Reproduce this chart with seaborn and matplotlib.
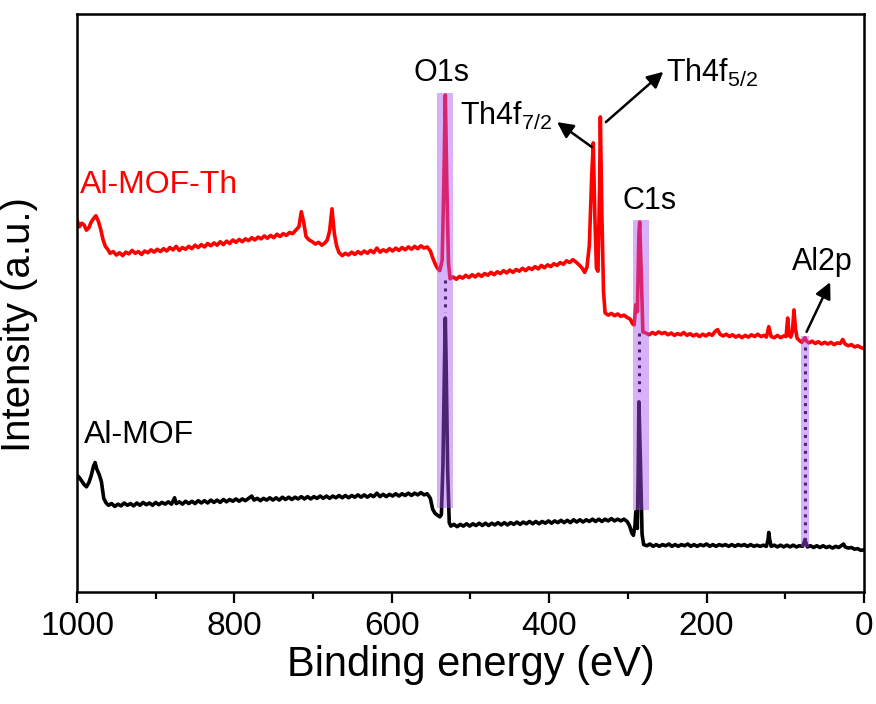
import matplotlib
matplotlib.use('Agg')
import matplotlib.pyplot as plt
import pandas as pd
import seaborn as sns

# XPS survey spectra (arbitrary intensity units)
energy_th = [1000, 997, 994, 991, 988, 985, 982, 979, 976, 973,
             970, 967, 964, 961, 958, 954, 950, 946, 942, 938,
             934, 930, 926, 922, 918, 914, 910, 906, 902, 898,
             894, 890, 886, 882, 878, 874, 870, 866, 862, 858,
             854, 850, 846, 842, 838, 834, 830, 826, 822, 818,
             814, 810, 806, 802, 798, 794, 790, 786, 782, 778,
             774, 770, 766, 762, 758, 754, 750, 746, 742, 738,
             734, 730, 726, 722, 718, 715, 712, 709, 705, 701,
             697, 693, 689, 685, 682, 679, 676, 673, 670, 667,
             663, 659, 655, 651, 647, 643, 639, 635, 631, 627,
             623, 619, 615, 611, 607, 603, 599, 595, 591, 587,
             583, 579, 575, 571, 567, 563, 559, 555, 551, 548,
             545, 542, 539, 536, 534, 532, 530, 528, 526, 522,
             518, 514, 510, 506, 502, 498, 494, 490, 486, 482,
             478, 474, 470, 466, 462, 458, 454, 450, 446, 442,
             438, 434, 430, 426, 422, 418, 414, 410, 406, 402,
             398, 394, 390, 386, 382, 378, 374, 370, 366, 362,
             358, 355, 352, 349, 346, 344, 342, 340, 338, 336,
             335, 333, 331, 329, 325, 321, 317, 313, 309, 305,
             301, 297, 294, 292, 290, 288, 286, 285, 283, 281,
             277, 273, 269, 265, 261, 257, 253, 249, 245, 241,
             237, 233, 229, 225, 221, 217, 213, 209, 205, 201,
             197, 193, 189, 186, 183, 179, 175, 171, 167, 163,
             159, 155, 151, 147, 143, 139, 135, 131, 127, 124,
             121, 118, 114, 110, 106, 102, 99, 97, 95, 93,
             91, 89, 87, 85, 82, 79, 77, 75, 73, 70,
             66, 62, 58, 54, 50, 46, 42, 38, 34, 30,
             27, 24, 20, 16, 12, 8, 4, 0]
intensity_th = [64.4, 63.2, 63.8, 63.5, 62.6, 63.0, 64.0, 64.6, 65.1, 64.2,
                62.8, 61.0, 59.8, 59.3, 58.6, 58.9, 58.3, 58.7, 58.2, 58.8,
                58.5, 59.1, 58.6, 58.9, 58.4, 59.0, 58.7, 59.2, 58.8, 59.3,
                58.9, 59.4, 59.0, 59.6, 59.2, 59.8, 59.1, 59.6, 59.3, 59.8,
                59.4, 60.0, 59.6, 60.1, 59.7, 60.3, 59.9, 60.4, 60.0, 60.6,
                60.1, 60.7, 60.3, 60.9, 60.5, 61.0, 60.6, 61.1, 60.8, 61.3,
                60.9, 61.4, 61.1, 61.6, 61.2, 61.7, 61.3, 61.9, 61.5, 62.0,
                61.7, 62.2, 62.0, 62.6, 63.2, 65.8, 64.0, 61.5, 60.9, 60.6,
                60.2, 60.5, 60.0, 60.4, 60.9, 62.5, 66.3, 62.0, 59.8, 58.7,
                58.2, 58.6, 58.3, 58.8, 58.4, 58.9, 58.5, 59.0, 58.6, 59.1,
                58.7, 59.5, 58.8, 59.2, 58.9, 59.4, 59.0, 59.5, 59.1, 59.6,
                59.2, 59.7, 59.3, 59.8, 59.4, 59.9, 59.5, 59.7, 59.0, 57.8,
                56.8, 56.0, 55.6, 57.4, 70.0, 86.0, 70.0, 57.0, 54.2, 54.5,
                54.1, 54.6, 54.3, 54.8, 54.4, 54.9, 54.5, 55.0, 54.6, 55.1,
                54.8, 55.3, 54.9, 55.4, 55.1, 55.6, 55.2, 55.7, 55.3, 55.8,
                55.5, 56.0, 55.6, 56.1, 55.8, 56.3, 55.9, 56.5, 56.1, 56.6,
                56.3, 56.8, 56.5, 57.0, 56.7, 57.3, 57.0, 57.5, 57.1, 56.6,
                56.0, 55.3, 56.2, 60.0, 72.0, 77.7, 65.0, 56.0, 55.5, 70.0,
                82.2, 65.0, 52.0, 48.3, 47.9, 48.2, 47.8, 48.1, 47.7, 47.9,
                47.5, 47.2, 46.4, 46.2, 49.7, 48.5, 62.0, 64.0, 55.0, 45.0,
                44.8, 44.5, 44.9, 44.6, 45.0, 44.7, 44.9, 44.5, 44.8, 44.4,
                44.7, 44.5, 44.9, 44.4, 44.7, 44.3, 44.6, 44.2, 44.6, 44.3,
                44.7, 44.4, 45.1, 45.4, 44.6, 44.3, 44.6, 44.2, 44.5, 44.1,
                44.4, 44.0, 44.4, 44.1, 44.5, 44.2, 44.6, 44.2, 44.4, 44.1,
                45.9, 44.2, 44.0, 44.4, 44.0, 44.3, 44.2, 47.4, 44.4, 44.1,
                45.0, 48.8, 45.5, 43.9, 43.5, 43.2, 43.6, 44.0, 43.4, 43.1,
                43.4, 43.0, 43.3, 42.9, 43.2, 42.9, 43.2, 42.8, 43.1, 43.0,
                43.7, 42.9, 42.6, 42.8, 42.4, 42.6, 42.3, 42.1]

energy_mof = [1000, 997, 994, 991, 988, 985, 982, 979, 977, 975,
              972, 969, 966, 963, 960, 956, 952, 948, 944, 940,
              936, 932, 928, 924, 920, 916, 912, 908, 904, 900,
              896, 892, 888, 884, 880, 876, 874, 870, 866, 862,
              858, 854, 850, 846, 842, 838, 834, 830, 826, 822,
              818, 814, 810, 806, 802, 798, 794, 790, 786, 782,
              778, 775, 771, 767, 763, 759, 755, 751, 747, 743,
              739, 735, 731, 727, 723, 719, 715, 711, 707, 703,
              699, 695, 691, 687, 683, 679, 675, 671, 667, 663,
              659, 655, 651, 647, 643, 639, 635, 631, 627, 623,
              619, 615, 611, 607, 603, 599, 595, 591, 587, 583,
              579, 575, 571, 567, 563, 559, 555, 551, 548, 545,
              542, 539, 537, 535, 533, 532, 531, 529, 527, 525,
              521, 517, 513, 509, 505, 501, 497, 493, 489, 485,
              481, 477, 473, 469, 465, 461, 457, 453, 449, 445,
              441, 437, 433, 429, 425, 421, 417, 413, 409, 405,
              401, 397, 393, 389, 385, 381, 377, 373, 369, 365,
              361, 357, 353, 349, 345, 341, 337, 333, 329, 325,
              321, 317, 313, 309, 305, 301, 298, 295, 293, 291,
              290, 288, 287, 286, 284, 282, 280, 276, 272, 268,
              264, 260, 256, 252, 248, 244, 240, 236, 232, 228,
              224, 220, 216, 212, 208, 204, 200, 196, 192, 188,
              184, 180, 176, 172, 168, 164, 160, 156, 152, 148,
              144, 140, 136, 132, 128, 124, 122, 121, 120, 118,
              114, 110, 106, 102, 98, 94, 90, 86, 82, 78,
              76, 75, 74, 72, 68, 64, 60, 56, 52, 48,
              44, 40, 36, 32, 28, 26, 24, 20, 16, 12,
              8, 4, 0]
intensity_mof = [20.2, 19.8, 19.2, 18.6, 18.2, 18.9, 20.1, 21.8, 22.4, 21.3,
                 20.4, 19.1, 16.2, 15.4, 15.0, 15.3, 14.8, 15.2, 14.9, 15.4,
                 15.0, 15.3, 14.9, 15.4, 15.0, 15.5, 15.1, 15.4, 15.0, 15.5,
                 15.1, 15.5, 15.2, 15.6, 15.2, 16.3, 15.3, 15.6, 15.2, 15.7,
                 15.3, 15.7, 15.3, 15.8, 15.4, 15.8, 15.4, 15.9, 15.5, 15.9,
                 15.5, 16.0, 15.6, 16.0, 15.7, 16.1, 15.7, 16.1, 15.8, 16.2,
                 16.6, 15.9, 16.2, 15.8, 16.2, 15.9, 16.3, 15.9, 16.3, 15.9,
                 16.4, 16.0, 16.4, 16.0, 16.4, 16.1, 16.5, 16.1, 16.5, 16.1,
                 16.5, 16.2, 16.6, 16.2, 16.6, 16.2, 16.6, 16.3, 16.7, 16.3,
                 16.7, 16.3, 16.7, 16.4, 16.8, 16.4, 16.8, 16.4, 16.8, 16.5,
                 17.1, 16.5, 16.9, 16.5, 16.9, 16.6, 17.0, 16.6, 17.0, 16.7,
                 17.1, 16.7, 17.1, 16.8, 17.2, 16.8, 17.0, 16.2, 14.3, 13.6,
                 13.3, 13.0, 13.4, 22.0, 40.0, 47.4, 40.0, 21.0, 12.0, 11.4,
                 11.7, 11.3, 11.7, 11.4, 11.8, 11.4, 11.8, 11.5, 11.9, 11.5,
                 11.9, 11.5, 11.9, 11.6, 12.0, 11.6, 12.0, 11.6, 12.0, 11.7,
                 12.1, 11.7, 12.1, 11.8, 12.2, 11.8, 12.2, 11.8, 12.2, 11.9,
                 12.3, 11.9, 12.3, 12.0, 12.4, 12.0, 12.4, 12.0, 12.5, 12.1,
                 12.5, 12.1, 12.5, 12.2, 12.6, 12.2, 12.6, 12.2, 12.6, 12.3,
                 12.7, 12.3, 12.6, 12.3, 12.6, 12.2, 11.5, 10.2, 9.8, 11.5,
                 13.9, 11.0, 20.0, 32.9, 22.0, 10.0, 8.2, 8.0, 8.3, 7.9,
                 8.2, 7.9, 8.2, 8.0, 8.3, 7.9, 8.2, 7.9, 8.2, 8.0,
                 8.3, 7.9, 8.2, 7.9, 8.2, 8.0, 8.3, 7.9, 8.2, 7.9,
                 8.2, 8.0, 8.2, 7.9, 8.2, 7.9, 8.2, 8.0, 8.2, 7.9,
                 8.2, 7.9, 8.1, 7.9, 8.1, 7.9, 9.0, 10.3, 9.2, 7.9,
                 8.1, 7.8, 8.1, 7.8, 8.1, 7.8, 8.1, 7.8, 8.0, 7.9,
                 8.6, 9.1, 8.6, 7.8, 8.0, 7.7, 8.0, 7.7, 8.0, 7.7,
                 7.9, 7.6, 7.9, 7.7, 8.1, 8.3, 7.8, 7.6, 7.7, 7.4,
                 7.5, 7.2, 7.3]

samples = ['Al-MOF-Th', 'Al-MOF']
sample_colors = ['#ff0000', '#000000']

# highlighted peaks: centre, band energy range (eV), band height, dotted guide (top, bottom)
peak_centers = [532, 285.5, 75]
band_lo = [522, 273, 70]
band_hi = [543, 293, 80]
band_bottom = [14.5, 14.2, 7.8]
band_top = [86.3, 64.4, 44.3]
guide_top = [54.0, 44.8, 42.4]
guide_bottom = [48.5, 34.4, 9.0]

df = pd.concat([
    pd.DataFrame({'Binding energy (eV)': energy_th, 'Intensity': intensity_th, 'Sample': samples[0]}),
    pd.DataFrame({'Binding energy (eV)': energy_mof, 'Intensity': intensity_mof, 'Sample': samples[1]}),
])

sns.set_style('white')
plt.rcParams['font.family'] = ['Liberation Sans', 'DejaVu Sans']
plt.rcParams['mathtext.fontset'] = 'custom'
plt.rcParams['mathtext.rm'] = 'Liberation Sans'
plt.rcParams['mathtext.it'] = 'Liberation Sans:italic'
plt.rcParams['text.color'] = 'black'
plt.rcParams['axes.labelcolor'] = 'black'
plt.rcParams['xtick.color'] = 'black'

fig = plt.figure(figsize=(8.76, 7.04), dpi=100)
ax = fig.add_axes([0.0879, 0.1591, 0.8984, 0.821])

sns.lineplot(data=df, x='Binding energy (eV)', y='Intensity', hue='Sample',
             palette=dict(zip(samples, sample_colors)), estimator=None, sort=False,
             lw=2.6, legend=False, ax=ax, zorder=2)

# dotted guides and shaded bands
for c, lo, hi, b0, b1, g0, g1 in zip(peak_centers, band_lo, band_hi, band_bottom,
                                       band_top, guide_top, guide_bottom):
    ax.plot([c, c], [g0, g1], color='#000000', lw=2.2, ls=(0, (1, 1.6)), zorder=1)
    ax.fill_between([hi, lo], b0, b1, color='#a855f7', alpha=0.45, lw=0, zorder=3)

fs = 22
ax.text(537, 87.2, 'O1s', ha='center', va='bottom', fontsize=fs)
ax.text(272, 65.0, 'C1s', ha='center', va='bottom', fontsize=fs)
ax.text(53, 54.5, 'Al2p', ha='center', va='bottom', fontsize=fs)
arrow = dict(arrowstyle='-|>', color='k', lw=1.8, mutation_scale=24, shrinkA=0, shrinkB=0)
ax.annotate('', xy=(43, 53.6), xytext=(73, 45.0), arrowprops=arrow)
ax.text(455, 80.8, r'Th4f$_{\mathregular{7/2}}$', ha='center', va='baseline', fontsize=fs)
ax.annotate('', xy=(390, 81.3), xytext=(346, 77.0), arrowprops=arrow)
ax.text(193, 88.2, r'Th4f$_{\mathregular{5/2}}$', ha='center', va='baseline', fontsize=fs)
ax.annotate('', xy=(255, 90.0), xytext=(328, 81.3), arrowprops=arrow)

ax.text(996, 69.0, 'Al-MOF-Th', color='#ff0000', ha='left', va='baseline', fontsize=23)
ax.text(991, 25.8, 'Al-MOF', color='k', ha='left', va='baseline', fontsize=23)

ax.set_xlim(1000, 0)
ax.set_ylim(0, 100)
ax.set_xticks([1000, 800, 600, 400, 200, 0])
ax.set_xticks([900, 700, 500, 300, 100], minor=True)
ax.set_yticks([])
ax.tick_params(axis='x', which='major', direction='out', length=8, width=1.6,
               labelsize=24, pad=6, bottom=True)
ax.tick_params(axis='x', which='minor', direction='out', length=5, width=1.6, bottom=True)
for s in ax.spines.values():
    s.set_linewidth(1.8)
    s.set_color('k')
ax.set_xlabel('Binding energy (eV)', fontsize=30, labelpad=2)
ax.set_ylabel('Intensity (a.u.)', fontsize=29)
ax.yaxis.set_label_coords(-0.05, 0.462)

fig.savefig('out.png', dpi=100)
